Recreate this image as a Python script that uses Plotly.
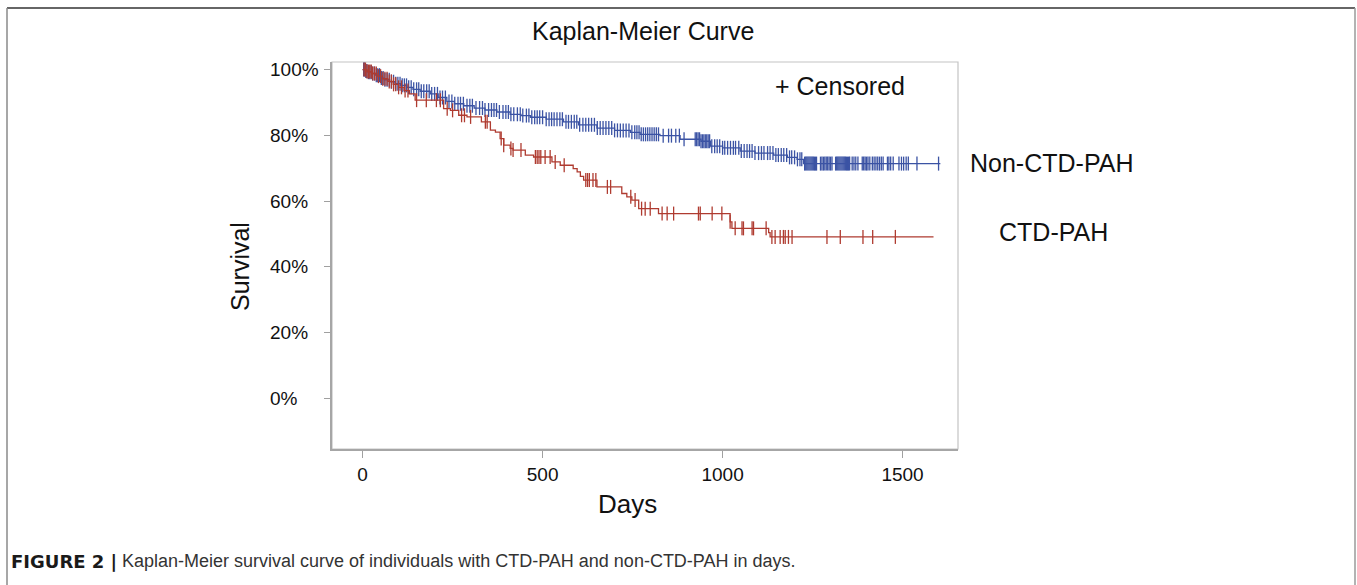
import numpy as np
import plotly.graph_objects as go

# ---------------- data ----------------
# Non-CTD-PAH Kaplan-Meier steps (day, survival %)
non_days = [0, 8, 15, 25, 35, 49, 60, 75, 90, 105, 123, 140, 160, 188, 210, 234, 255, 281, 310, 340,
            373, 410, 440, 466, 510, 558, 600, 651, 700, 744, 771, 826, 882, 940, 966, 1000, 1049,
            1090, 1142, 1180, 1207, 1225]
non_surv = [100, 99.6, 99.2, 98.8, 98.3, 97.4, 96.9, 96.3, 95.7, 95.2, 94.6, 94.0, 93.4, 92.6, 91.5,
            90.3, 89.6, 89.0, 88.3, 87.7, 87.1, 86.4, 86.0, 85.5, 84.9, 84.1, 83.2, 82.2, 81.5, 80.9,
            80.3, 79.9, 78.8, 78.2, 76.7, 76.2, 75.2, 74.6, 74.0, 73.3, 72.7, 71.4]
non_end = 1605
non_censor = [3, 6, 9, 12, 16, 20, 24, 28, 33, 38, 42, 47, 52, 57, 62, 68, 74, 80, 86, 92, 98, 104, 110,
              116, 122, 128, 135, 142, 150, 156, 163, 170, 178, 185, 192, 200, 208, 215, 222, 230, 240,
              248, 256, 265, 272, 280, 290, 298, 305, 315, 325, 333, 340, 350, 358, 365, 372, 380, 390,
              398, 405, 412, 420, 430, 438, 445, 455, 462, 470, 478, 485, 492, 500, 510, 518, 525, 532,
              540, 548, 555, 565, 572, 580, 588, 595, 603, 612, 620, 628, 636, 644, 652, 660, 668, 676,
              684, 692, 700, 708, 716, 724, 732, 740, 748, 756, 762, 768, 774, 780, 786, 792, 798, 804,
              810, 816, 822, 835, 850, 858, 870, 880, 893, 924, 928, 932, 936, 940, 944, 948, 952, 956,
              960, 964, 970, 978, 985, 992, 1000, 1006, 1014, 1022, 1030, 1036, 1045, 1052, 1060, 1068,
              1075, 1082, 1090, 1100, 1108, 1115, 1125, 1132, 1140, 1148, 1155, 1163, 1170, 1178, 1186,
              1192, 1200, 1208, 1215, 1220, 1228, 1231, 1234, 1237, 1240, 1243, 1246, 1249, 1252, 1255,
              1258, 1261, 1272, 1276, 1280, 1284, 1288, 1292, 1296, 1300, 1304, 1314, 1317, 1320, 1323,
              1326, 1329, 1332, 1335, 1338, 1341, 1344, 1347, 1350, 1353, 1360, 1365, 1370, 1376, 1388,
              1392, 1396, 1400, 1404, 1409, 1416, 1421, 1426, 1431, 1436, 1441, 1446, 1458, 1462, 1467,
              1474, 1490, 1497, 1503, 1510, 1516, 1540, 1600]

# CTD-PAH Kaplan-Meier steps (day, survival %)
ctd_days = [0, 12, 25, 40, 55, 70, 85, 100, 115, 130, 146, 225, 244, 267, 290, 330, 355, 369, 382, 392,
            410, 418, 452, 475, 526, 549, 585, 596, 605, 614, 651, 720, 734, 748, 767, 822, 1021, 1026,
            1128, 1132]
ctd_surv = [100, 99.4, 98.8, 98.0, 97.2, 96.4, 95.5, 94.6, 93.6, 92.6, 90.7, 88.1, 87.6, 86.1, 85.6,
            84.1, 81.6, 81.0, 79.0, 77.0, 76.0, 75.5, 74.0, 73.4, 71.9, 70.9, 69.9, 68.9, 67.5, 66.4,
            64.3, 62.3, 61.3, 60.3, 57.7, 56.2, 53.7, 51.7, 50.4, 49.1]
ctd_end = 1586
ctd_censor = [4, 8, 12, 16, 20, 24, 28, 33, 38, 44, 50, 56, 62, 68, 74, 80, 86, 92, 100, 108, 118, 126,
              150, 177, 205, 216, 235, 250, 275, 283, 300, 341, 346, 385, 392, 412, 418, 440, 480, 485,
              490, 495, 507, 521, 535, 560, 620, 625, 630, 640, 648, 680, 689, 745, 757, 775, 785, 799,
              832, 846, 864, 933, 938, 971, 998, 1021, 1035, 1054, 1058, 1082, 1086, 1121, 1137, 1146,
              1160, 1169, 1174, 1183, 1193, 1290, 1327, 1390, 1417, 1480]

y_ticks = [0, 20, 40, 60, 80, 100]
y_tick_labels = ["0%", "20%", "40%", "60%", "80%", "100%"]
x_ticks = [0, 500, 1000, 1500]

BLUE = "#3B53A4"
RED = "#AF3B30"
FONT = "Liberation Sans, Arial, Helvetica, sans-serif"


def surv_at(days, surv, t):
    idx = np.searchsorted(np.asarray(days), np.asarray(t), side="right") - 1
    return np.asarray(surv)[idx]


fig = go.Figure()
for days, surv, end, cens, col in [(non_days, non_surv, non_end, non_censor, BLUE),
                                   (ctd_days, ctd_surv, ctd_end, ctd_censor, RED)]:
    fig.add_trace(go.Scatter(x=list(days) + [end], y=list(surv) + [surv[-1]], mode="lines",
                             line=dict(color=col, width=1.3, shape="hv"), showlegend=False,
                             hoverinfo="skip"))
    fig.add_trace(go.Scatter(x=cens, y=surv_at(days, surv, cens), mode="markers",
                             marker=dict(symbol="line-ns", size=10, line=dict(color=col, width=1.3)),
                             showlegend=False))

W, H = 1357, 585
L, R, T, B = 332, 399, 62, 136
pw, ph = W - L - R, H - T - B


def px(xp):
    return (xp - L) / pw


def py(yp):
    return (H - B - yp) / ph


annotations = []
for v, lab in zip(y_ticks, y_tick_labels):
    annotations.append(dict(x=px(268), y=v, xref="paper", yref="y", text=lab, showarrow=False,
                            xanchor="left", yanchor="middle", font=dict(size=19, color="#111")))
annotations += [
    dict(x=px(643), y=py(31), xref="paper", yref="paper", text="Kaplan-Meier Curve", showarrow=False,
         xanchor="center", yanchor="middle", font=dict(size=25, color="#111")),
    dict(x=px(240), y=py(267), xref="paper", yref="paper", text="Survival", showarrow=False,
         textangle=-90, xanchor="center", yanchor="middle", font=dict(size=25, color="#111")),
    dict(x=px(627), y=py(504), xref="paper", yref="paper", text="Days", showarrow=False,
         xanchor="center", yanchor="middle", font=dict(size=26, color="#111")),
    dict(x=px(840), y=py(86), xref="paper", yref="paper", text="+ Censored", showarrow=False,
         xanchor="center", yanchor="middle", font=dict(size=25, color="#111")),
    dict(x=px(1051), y=py(163), xref="paper", yref="paper", text="Non-CTD-PAH", showarrow=False,
         xanchor="center", yanchor="middle", font=dict(size=25, color="#111")),
    dict(x=px(1053), y=py(232), xref="paper", yref="paper", text="CTD-PAH", showarrow=False,
         xanchor="center", yanchor="middle", font=dict(size=25, color="#111")),
    dict(x=px(9), y=py(561), xref="paper", yref="paper", text="<b>FIGURE 2 |</b>",
         showarrow=False, xanchor="left", yanchor="middle",
         font=dict(size=18, color="#1a1a1a", family="DejaVu Sans, Liberation Sans, sans-serif")),
    dict(x=px(120), y=py(561), xref="paper", yref="paper",
         text="Kaplan-Meier survival curve of individuals with CTD-PAH and non-CTD-PAH in days.",
         showarrow=False, xanchor="left", yanchor="middle", font=dict(size=18, color="#333333")),
]

shapes = [
    # plot frame (top/right lighter)
    dict(type="rect", xref="paper", yref="paper", x0=0, x1=1, y0=0, y1=1,
         line=dict(color="#c4c4c4", width=1.2), layer="below"),
    # outer figure frame
    dict(type="line", xref="paper", yref="paper", x0=px(7), x1=px(1355), y0=py(8), y1=py(8),
         line=dict(color="#333333", width=1.5)),
    dict(type="line", xref="paper", yref="paper", x0=px(7), x1=px(7), y0=py(8), y1=py(600),
         line=dict(color="#8a8a8a", width=1.5)),
    dict(type="line", xref="paper", yref="paper", x0=px(1355), x1=px(1355), y0=py(8), y1=py(600),
         line=dict(color="#9a9a9a", width=1.5)),
]

fig.update_layout(
    width=W, height=H, autosize=False,
    margin=dict(l=L, r=R, t=T, b=B, pad=0),
    paper_bgcolor="white", plot_bgcolor="white",
    font=dict(family=FONT, color="#111"),
    annotations=annotations, shapes=shapes,
    showlegend=False,
)
fig.update_xaxes(range=[-85, 1654], tickvals=x_ticks, ticks="outside", ticklen=7, tickcolor="#a0a0a0",
                 tickwidth=1.2, showgrid=False, zeroline=False, showline=True, linecolor="#a6a6a6",
                 linewidth=2, tickfont=dict(size=19, color="#111"), ticklabelstandoff=0)
fig.update_yaxes(range=[-15.4, 102.3], tickvals=y_ticks, ticks="outside", ticklen=6, tickcolor="#a0a0a0",
                 tickwidth=1.2, showgrid=False, zeroline=False, showline=True, linecolor="#a6a6a6",
                 linewidth=2, showticklabels=False)

fig.write_html("out.html", config={"displayModeBar": False},
               post_script="document.body.style.margin='0px';document.body.style.overflow='hidden';")
